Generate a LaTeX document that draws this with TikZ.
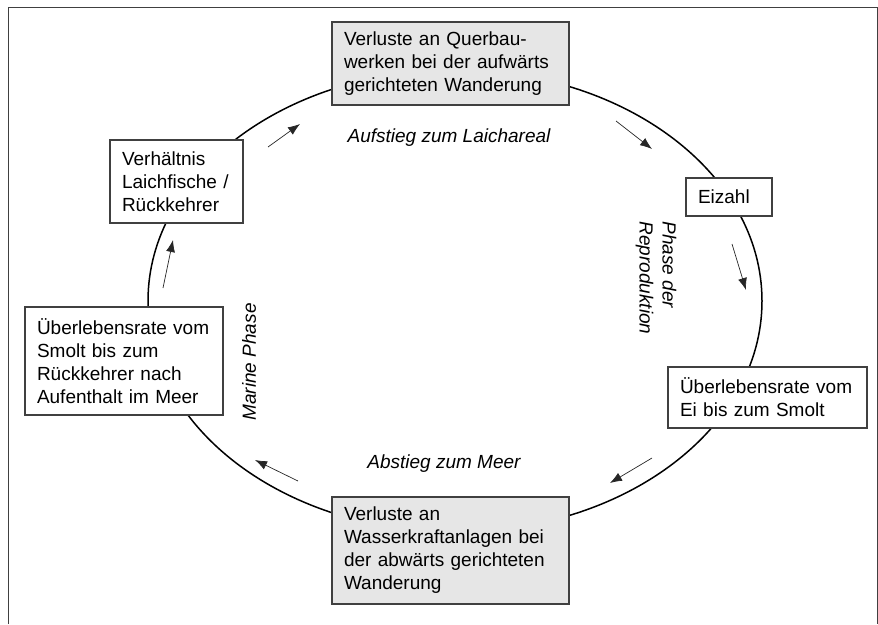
\documentclass[tikz,border=0pt]{standalone}
\usepackage{fontspec}
\setmainfont{Liberation Sans}
\usepackage{tikz}
\usetikzlibrary{arrows.meta,positioning}
\definecolor{boxline}{HTML}{404040}
\definecolor{boxgray}{HTML}{E6E6E6}

\begin{document}
\begin{tikzpicture}[x=1pt, y=-1pt,
		every node/.style={font=\fontsize{19}{23}\selectfont},
		stage/.style={draw=boxline, line width=1.2pt, fill=white, align=left, anchor=north west,
			inner xsep=12pt, inner ysep=0pt, outer sep=0pt},
		loss/.style={stage, fill=boxgray},
		phase/.style={font=\fontsize{19}{23}\selectfont\itshape, align=left},
		flow/.style={-{Latex[length=12pt,width=9pt]}, line width=0.7pt, black!85}]
		\useasboundingbox (0,0) rectangle (878,624);
		\draw [black!75, line width=1pt] (8,624) -- (8,7) -- (877,7) -- (877,624);
		
		\coordinate (mid) at (455,301);
		\draw [line width=1.5pt] (mid) ellipse (307 and 231);
		
		\node[loss, minimum width=237, minimum height=83, text width=213] (querauf) at (332,22)
			{Verluste an Querbau-\\werken bei der aufwärts\\gerichteten Wanderung};
		\node[stage, minimum width=86, minimum height=38, text width=62] (eizahl) at (686,178) {Eizahl};
		\node[stage, minimum width=199, minimum height=61, text width=175] (eismolt) at (668,367)
			{Überlebensrate vom\\Ei bis zum Smolt};
		\node[loss, minimum width=237, minimum height=107, text width=213] (querab) at (332,497)
			{Verluste an\\Wasserkraftanlagen bei\\der abwärts gerichteten\\Wanderung};
		\node[stage, minimum width=198, minimum height=108, text width=174] (smoltmeer) at (25,307)
			{Überlebensrate vom\\Smolt bis zum\\Rückkehrer nach\\Aufenthalt im Meer};
		\node[stage, minimum width=133, minimum height=83, text width=109] (laichfisch) at (110,140)
			{Verhältnis\\Laichfische /\\Rückkehrer};
		
		\node[phase] (aufstieg) at (449,138) {Aufstieg zum Laichareal};
		\node[phase] (abstieg) at (444,464) {Abstieg zum Meer};
		\node[phase, rotate=-90] (reproduktion) at (656,278) {Phase der\\Reproduktion};
		\node[phase, rotate=90] (marin) at (249,362) {Marine Phase};
		
		\coordinate (a1) at (268,147);
		\coordinate (b1) at (300,124);
		\coordinate (a2) at (616,121);
		\coordinate (b2) at (652,149);
		\coordinate (a3) at (732,244);
		\coordinate (b3) at (746,290);
		\coordinate (a4) at (652,458);
		\coordinate (b4) at (610,483);
		\coordinate (a5) at (298,481);
		\coordinate (b5) at (255,460);
		\coordinate (a6) at (163,288);
		\coordinate (b6) at (173,240);
		
		\draw [flow] (a1) to (b1);
		\draw [flow] (a2) to (b2);
		\draw [flow] (a3) to (b3);
		\draw [flow] (a4) to (b4);
		\draw [flow] (a5) to (b5);
		\draw [flow] (a6) to (b6);
		\end{tikzpicture}
\end{document}
